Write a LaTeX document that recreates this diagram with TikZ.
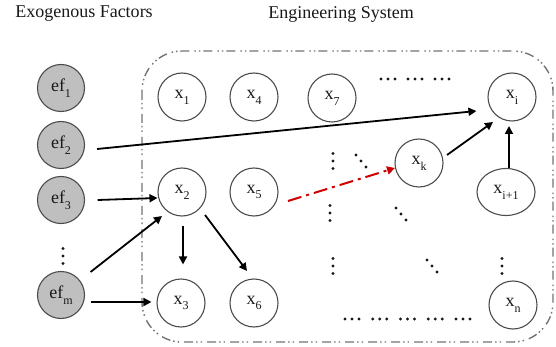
\documentclass[tikz,border=0pt]{standalone}
\usepackage{fontspec}
\setmainfont{Liberation Serif}
\usetikzlibrary{arrows.meta,shapes.geometric,calc}
\begin{document}
\begin{tikzpicture}[x=1pt,y=-1pt,
  lbl/.style={font=\fontsize{18}{20}\selectfont, text=black!90},
  title/.style={font=\fontsize{18}{20}\selectfont, text=black!90},
  efnode/.style={circle, draw=black!70, line width=1.1pt, fill=black!25, minimum size=47pt, inner sep=0pt, lbl},
  xnode/.style={circle, draw=black!70, line width=1.1pt, fill=white, minimum size=48pt, inner sep=0pt, lbl},
  xell/.style={ellipse, draw=black!70, line width=1.1pt, fill=white, minimum width=58pt, minimum height=47pt, inner sep=0pt, lbl},
  arr/.style={-{Triangle[length=8pt,width=8pt]}, line width=1.8pt, black},
  redarr/.style={-{Triangle[length=8pt,width=8pt]}, line width=2pt, red!80!black, dash pattern=on 14pt off 5pt on 3pt off 5pt},
  sysbox/.style={draw=black!55, line width=1.4pt, rounded corners=40pt, dash pattern=on 9pt off 3pt on 1.5pt off 3pt on 1.5pt off 5pt},
  dotfill/.style={fill=black!90}
]
\useasboundingbox (0,0) rectangle (556,347);

\newcommand{\sbx}[2]{#1\raisebox{-0.32em}{\fontsize{12}{12}\selectfont #2}}

% titles
\node[title] (t1) at (84,14) {Exogenous Factors};
\node[title] (t2) at (341,14) {Engineering System};

% system box
\draw[sysbox] (142,51) rectangle (553,342);

% exogenous factors
\node[efnode] (ef1) at (61,88) {\sbx{ef}{1}};
\node[efnode] (ef2) at (61,145) {\sbx{ef}{2}};
\node[efnode] (ef3) at (61,200) {\sbx{ef}{3}};
\node[efnode] (efm) at (61,295) {\sbx{ef}{m}};

% system nodes
\node[xnode] (x1) at (182,97) {\sbx{x}{1}};
\node[xnode] (x4) at (254,97) {\sbx{x}{4}};
\node[xnode] (x7) at (332,98) {\sbx{x}{7}};
\node[xnode] (xi) at (512,97) {\sbx{x}{i}};
\node[xnode] (x2) at (182,192) {\sbx{x}{2}};
\node[xnode] (x5) at (254,192) {\sbx{x}{5}};
\node[xnode] (xk) at (419,163) {\sbx{x}{k}};
\node[xell]  (xip) at (506,192) {\sbx{x}{i+1}};
\node[xnode] (x3) at (181,303) {\sbx{x}{3}};
\node[xnode] (x6) at (254,303) {\sbx{x}{6}};
\node[xnode] (xn) at (513,305) {\sbx{x}{n}};

% dots
\foreach \cx/\cy in {63/256, 333/161, 330/213, 333/266, 502/266}
  \foreach \k in {-1,0,1} \fill[dotfill] (\cx,\cy+7.5*\k) circle (1.6);
\foreach \ax/\ay in {361/161, 401/214, 432/266}
  \foreach \k in {-1,0,1} \fill[dotfill] (\ax+5*\k,\ay+6*\k) circle (1.6);
\foreach \g in {0,1,2}
  \foreach \k in {0,1,2} \fill[dotfill] (381+27*\g+7*\k,79) circle (1.6);
\foreach \g in {0,...,4}
  \foreach \k in {0,1,2} \fill[dotfill] (345+27.75*\g+7*\k,319) circle (1.6);

% connectors
\draw[arr] ($(ef2.east)+(12,4)$) -- ($(xi.west)+(-11,14)$);
\draw[arr] ($(ef3.east)+(12.5,0)$) -- ($(x2.west)+(0,6)$);
\draw[arr] ($(efm.east)+(5.5,-23)$) -- ($(x2.center)+(-20,24)$);
\draw[arr] ($(efm.east)+(5.5,7)$) -- ($(x3.west)+(-5,-1)$);
\draw[arr] ($(x2.south)+(1,9)$) -- ($(x3.north)+(2,-14)$);
\draw[arr] ($(x2.center)+(23,23)$) -- ($(x6.center)+(-7,-32)$);
\draw[redarr] ($(x5.center)+(34,9)$) -- ($(xk.center)+(-24,5)$);
\draw[arr] ($(xk.center)+(28,-8)$) -- ($(xi.center)+(-19,25)$);
\draw[arr] ($(xip.center)+(3,-24)$) -- ($(xi.center)+(-3,29)$);
\end{tikzpicture}
\end{document}
